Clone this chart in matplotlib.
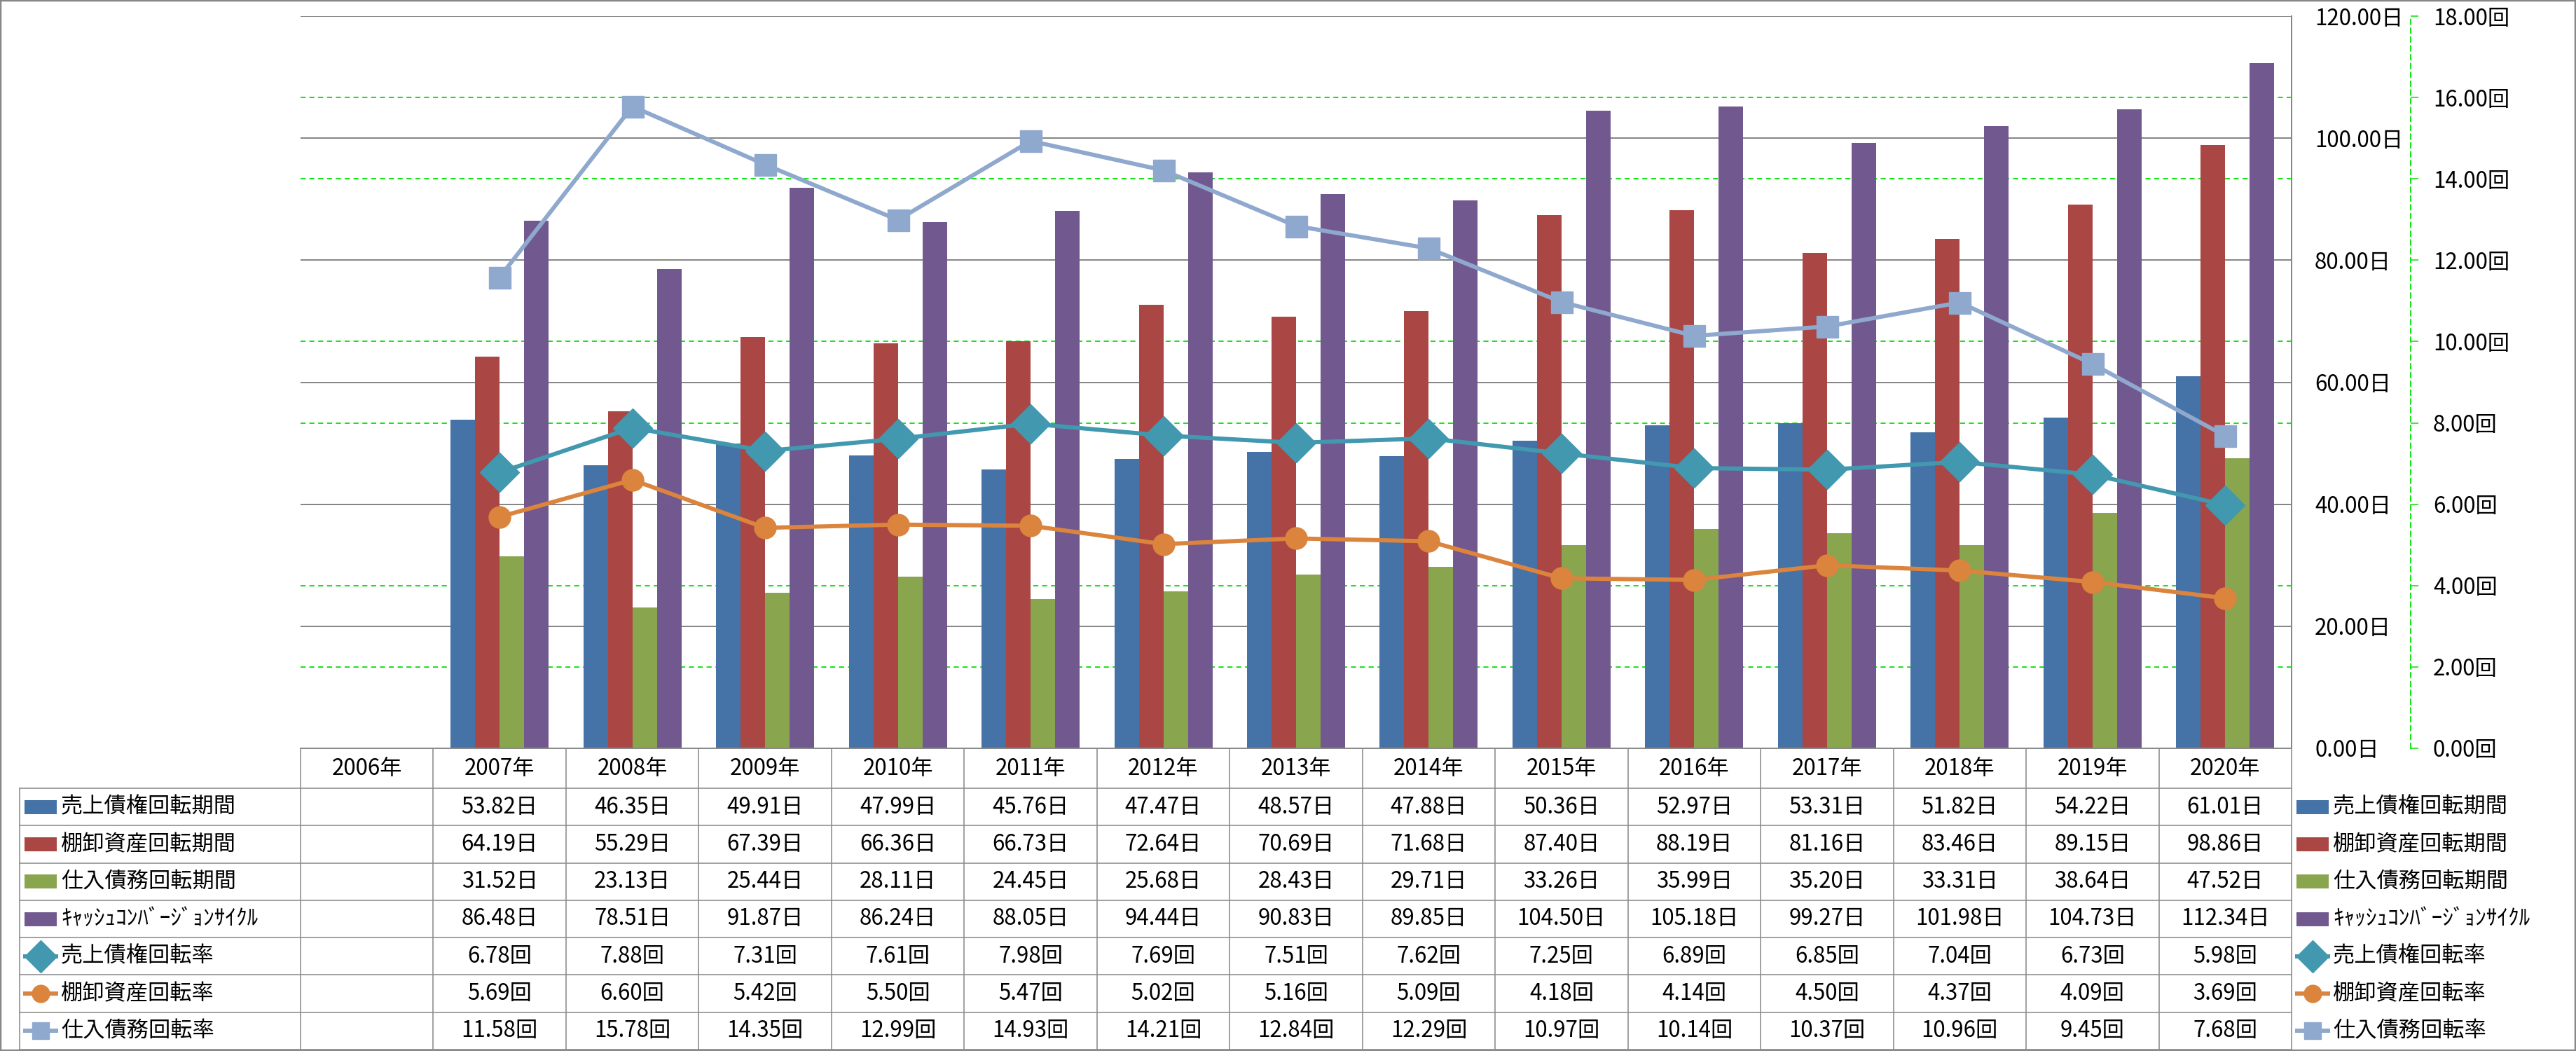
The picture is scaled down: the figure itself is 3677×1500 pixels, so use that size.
import matplotlib
matplotlib.use("Agg")
import matplotlib.pyplot as plt
import numpy as np
from matplotlib.patches import Rectangle

plt.rcParams['font.family'] = ['Noto Sans CJK JP', 'DejaVu Sans']

# ---------------- data ----------------
years = ["2006年", "2007年", "2008年", "2009年", "2010年", "2011年", "2012年", "2013年",
         "2014年", "2015年", "2016年", "2017年", "2018年", "2019年", "2020年"]

bar_names = ["売上債権回転期間", "棚卸資産回転期間", "仕入債務回転期間", "ｷｬｯｼｭｺﾝﾊﾞｰｼﾞｮﾝｻｲｸﾙ"]
line_names = ["売上債権回転率", "棚卸資産回転率", "仕入債務回転率"]

nan = np.nan
receivable_days = [nan, 53.82, 46.35, 49.91, 47.99, 45.76, 47.47, 48.57, 47.88, 50.36, 52.97, 53.31, 51.82, 54.22, 61.01]
inventory_days = [nan, 64.19, 55.29, 67.39, 66.36, 66.73, 72.64, 70.69, 71.68, 87.40, 88.19, 81.16, 83.46, 89.15, 98.86]
payable_days = [nan, 31.52, 23.13, 25.44, 28.11, 24.45, 25.68, 28.43, 29.71, 33.26, 35.99, 35.20, 33.31, 38.64, 47.52]
ccc_days = [nan, 86.48, 78.51, 91.87, 86.24, 88.05, 94.44, 90.83, 89.85, 104.50, 105.18, 99.27, 101.98, 104.73, 112.34]

receivable_turn = [nan, 6.78, 7.88, 7.31, 7.61, 7.98, 7.69, 7.51, 7.62, 7.25, 6.89, 6.85, 7.04, 6.73, 5.98]
inventory_turn = [nan, 5.69, 6.60, 5.42, 5.50, 5.47, 5.02, 5.16, 5.09, 4.18, 4.14, 4.50, 4.37, 4.09, 3.69]
payable_turn = [nan, 11.58, 15.78, 14.35, 12.99, 14.93, 14.21, 12.84, 12.29, 10.97, 10.14, 10.37, 10.96, 9.45, 7.68]

day_ticks = [0, 20, 40, 60, 80, 100, 120]
turn_ticks = [0, 2, 4, 6, 8, 10, 12, 14, 16, 18]

# ---------------- style ----------------
bar_colors = ["#4572A7", "#AA4643", "#89A54E", "#71588F"]
line_colors = ["#4198AF", "#DB843D", "#8FA8CD"]
line_markers = ["D", "o", "s"]
marker_px = [40, 31, 31]
GRID_GRAY = "#868686"
GREEN = "#00E000"
FS = 22.5

W, H, DPI = 3677, 1500, 100
px = 72.0 / DPI  # points per pixel

fig = plt.figure(figsize=(W / DPI, H / DPI), dpi=DPI)
fig.patch.set_facecolor("white")

# plot area (pixel layout)
L, R, T, B = 429, 3271, 23, 1068
ax = fig.add_axes([L / W, 1 - B / H, (R - L) / W, (B - T) / H])
ax.set_facecolor("none")
ncat = len(years)
x = np.arange(ncat)
ax.set_xlim(-0.5, ncat - 0.5)
ax.set_ylim(day_ticks[0], day_ticks[-1])

# gridlines
for t in day_ticks[1:]:
    ax.axhline(t, color=GRID_GRAY, lw=2 * px, zorder=0.5)
scale = day_ticks[-1] / turn_ticks[-1]
for t in turn_ticks[1:-1]:
    ax.axhline(t * scale, color=GREEN, lw=1.8 * px, ls=(0, (4, 3)), zorder=0.4)

# bars
bw = 35 / ((R - L) / ncat)
bar_series = [receivable_days, inventory_days, payable_days, ccc_days]
for i, (vals, col) in enumerate(zip(bar_series, bar_colors)):
    ax.bar(x + (i - 1.5) * bw, vals, width=bw, color=col, zorder=2, linewidth=0)

# secondary axis
ax2 = ax.twinx()
ax2.set_ylim(turn_ticks[0], turn_ticks[-1])
ax2.set_xlim(-0.5, ncat - 0.5)
for s in ["left", "top", "bottom"]:
    ax2.spines[s].set_visible(False)
ax2.spines["right"].set_position(("outward", (3441 - R) * px))
ax2.spines["right"].set_color(GREEN)
ax2.spines["right"].set_linestyle((0, (4, 3)))
ax2.spines["right"].set_linewidth(1.8 * px)

line_series = [receivable_turn, inventory_turn, payable_turn]
for vals, col, mk, ms in zip(line_series, line_colors, line_markers, marker_px):
    ax2.plot(x, vals, color=col, lw=6 * px, marker=mk, markersize=ms * px,
             markerfacecolor=col, markeredgecolor=col, zorder=3,
             solid_joinstyle="round")
ax2.yaxis.tick_right()
ax2.set_yticks(turn_ticks)
ax2.set_yticklabels([f"{t:.2f}回" for t in turn_ticks], fontsize=FS)
ax2.tick_params(axis="y", length=11 * px, width=1.5 * px, color=GREEN, pad=21 * px)

# primary axis styling (labels at right) -- after twinx
ax.yaxis.tick_right()
ax.set_yticks(day_ticks)
ax.set_yticklabels([f"{t:.2f}日" for t in day_ticks], fontsize=FS)
ax.tick_params(axis="y", length=0, pad=33 * px, right=True, left=False,
               labelright=True, labelleft=False)
ax.set_xticks([])
for s in ["left", "top"]:
    ax.spines[s].set_visible(False)
for s in ["right", "bottom"]:
    ax.spines[s].set_color(GRID_GRAY)
    ax.spines[s].set_linewidth(2 * px)

# ---------------- data table overlay ----------------
tab = fig.add_axes([0, 0, 1, 1])
tab.set_xlim(0, W)
tab.set_ylim(H, 0)
tab.axis("off")
tab.set_zorder(5)

LINE_C = "#8C8C8C"
lw_t = 1.6 * px
col_w = (R - L) / ncat
cols = [L + k * col_w for k in range(ncat + 1)]
row_top = 1125
row_h = (1498 - row_top) / 7
rows = [row_top + k * row_h for k in range(8)]
LBL_L = 28

# horizontal lines
tab.plot([L, R], [B, B], color=LINE_C, lw=lw_t)
for yy in rows:
    tab.plot([LBL_L, R], [yy, yy], color=LINE_C, lw=lw_t)
# vertical lines
tab.plot([LBL_L, LBL_L], [rows[0], rows[-1]], color=LINE_C, lw=lw_t)
for xx in cols:
    tab.plot([xx, xx], [B, rows[-1]], color=LINE_C, lw=lw_t)

# header
for k, yr in enumerate(years):
    tab.text(cols[k] + col_w / 2, (B + rows[0]) / 2, yr, ha="center", va="center", fontsize=FS)

all_series = bar_series + line_series
all_names = bar_names + line_names
units = ["日"] * 4 + ["回"] * 3


def draw_key(xc, yc, idx):
    if idx < 4:
        tab.add_patch(Rectangle((xc - 23, yc - 10), 46, 20, color=bar_colors[idx], lw=0))
    else:
        j = idx - 4
        tab.plot([xc - 25, xc + 25], [yc, yc], color=line_colors[j], lw=6 * px,
                 solid_capstyle="butt")
        tab.plot([xc], [yc], marker=line_markers[j], markersize=marker_px[j] * px * 0.8,
                 color=line_colors[j])


for r, (name, vals, u) in enumerate(zip(all_names, all_series, units)):
    yc = (rows[r] + rows[r + 1]) / 2
    draw_key(58, yc, r)
    tab.text(87, yc, name, ha="left", va="center", fontsize=FS)
    for k, v in enumerate(vals):
        if not np.isnan(v):
            tab.text(cols[k] + col_w / 2, yc, f"{v:.2f}{u}", ha="center", va="center", fontsize=FS)
    # right legend
    draw_key(3301, yc, r)
    tab.text(3330, yc, name, ha="left", va="center", fontsize=FS)

# outer chart border
tab.add_patch(Rectangle((1, 1), W - 2, H - 2, fill=False, edgecolor="#888888", lw=2.5 * px))

fig.savefig("out.png", dpi=DPI, facecolor="white")
